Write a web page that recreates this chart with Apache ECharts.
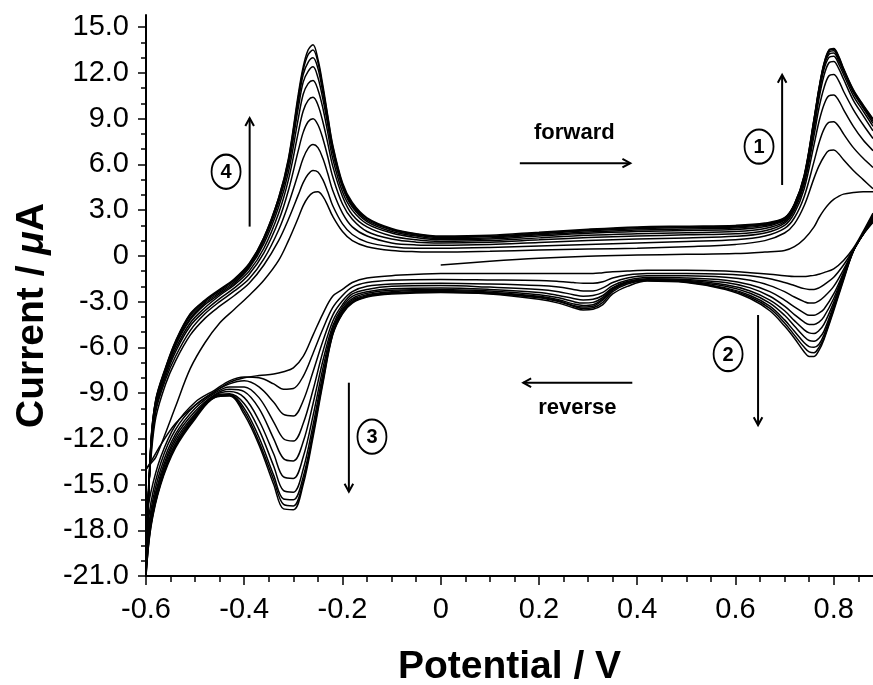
<!DOCTYPE html>
<html>
<head>
<meta charset="utf-8">
<script src="https://cdn.jsdelivr.net/npm/echarts@6/dist/echarts.min.js"></script>
<style>
  html, body { margin: 0; padding: 0; background: #ffffff; }
  #chart { width: 873px; height: 685px; }
</style>
</head>
<body>
<div id="chart"></div>
<script>
// ---- Potential grids (V) ----
const forwardPotential = [-0.6, -0.59, -0.58, -0.56, -0.54, -0.51, -0.48, -0.45, -0.42, -0.39,
  -0.36, -0.33, -0.31, -0.29, -0.28, -0.27, -0.26, -0.25, -0.24, -0.23,
  -0.22, -0.2, -0.18, -0.15, -0.1, -0.05, 0, 0.1, 0.2, 0.3,
  0.4, 0.5, 0.6, 0.66, 0.7, 0.72, 0.74, 0.76, 0.77, 0.78,
  0.79, 0.8, 0.81, 0.82, 0.84, 0.86, 0.88];
const reversePotential = [0.88, 0.86, 0.84, 0.82, 0.8, 0.78, 0.77, 0.76, 0.75, 0.74,
  0.72, 0.7, 0.67, 0.63, 0.58, 0.5, 0.42, 0.38, 0.35, 0.33,
  0.31, 0.29, 0.27, 0.24, 0.2, 0.1, 0, -0.1, -0.15, -0.18,
  -0.2, -0.22, -0.24, -0.26, -0.28, -0.3, -0.32, -0.34, -0.37, -0.4,
  -0.43, -0.46, -0.5, -0.54, -0.57, -0.59, -0.6];
// first sweep starts at 0 V (uses the forward grid from 0 V on)
const initialPotential = forwardPotential.slice(26);

// ---- Currents (µA) ----
const forward0 = [-0.6, -0.35, -0.15, -0.02, 0.05, 0.1, 0.15, 0.25, 0.35, 0.6, 1.1, 1.9, 2.5, 3.0, 3.4, 3.7, 3.9, 4.05, 4.15, 4.2, 4.2];

const reverse1 = [2.8, 1.6, 0.5, -0.3, -0.85, -1.1, -1.2, -1.28, -1.32, -1.35, -1.35, -1.3, -1.2, -1.1, -1.0, -0.95, -0.95, -1.0, -1.05, -1.1, -1.15, -1.15, -1.15, -1.15, -1.15, -1.15, -1.15, -1.3, -1.45, -1.75, -2.2, -2.65, -3.8, -5.2, -6.6, -7.35, -7.6, -7.75, -7.85, -8.0, -8.3, -8.9, -9.8, -11.0, -12.4, -13.5, -14];
const forward1 = [-14, -13.6, -13.2, -11.6, -9.9, -7.4, -5.7, -4.4, -3.5, -2.6, -1.6, -0.3, 1.0, 2.5, 3.3, 3.85, 4.15, 4.2, 3.9, 3.3, 2.6, 1.6, 1.0, 0.6, 0.35, 0.27, 0.25, 0.3, 0.38, 0.45, 0.5, 0.6, 0.75, 1.0, 1.5, 2.1, 3.3, 5.1, 5.9, 6.5, 6.9, 6.95, 6.7, 6.3, 5.6, 5.0, 4.4];
const reverse2 = [2.7, 1.5, 0.4, -0.6, -1.4, -1.9, -2.1, -2.2, -2.2, -2.15, -1.95, -1.75, -1.5, -1.3, -1.2, -1.15, -1.15, -1.25, -1.45, -1.7, -1.8, -1.8, -1.75, -1.68, -1.62, -1.58, -1.55, -1.6, -1.75, -2.05, -2.6, -3.4, -4.8, -6.4, -7.9, -8.7, -8.75, -8.4, -8.0, -7.95, -8.2, -8.8, -9.6, -11.1, -13.2, -15.5, -17.5];
const forward2 = [-17.5, -13.3, -10.6, -8.4, -6.9, -5.2, -4.1, -3.3, -2.6, -1.8, -0.6, 1.0, 2.4, 4.0, 4.8, 5.35, 5.6, 5.5, 5.0, 4.2, 3.3, 2.1, 1.4, 0.9, 0.6, 0.5, 0.5, 0.55, 0.65, 0.75, 0.85, 0.95, 1.05, 1.3, 1.8, 2.5, 3.9, 6.2, 7.4, 8.3, 8.75, 8.8, 8.5, 8.0, 7.1, 6.4, 5.8];
const reverse3 = [2.6, 1.45, 0.35, -0.9, -2.0, -2.7, -2.95, -3.1, -3.1, -3.0, -2.7, -2.35, -1.95, -1.6, -1.4, -1.3, -1.3, -1.45, -1.75, -2.1, -2.3, -2.3, -2.2, -2.05, -1.95, -1.85, -1.8, -1.85, -2.0, -2.35, -2.95, -3.9, -5.6, -7.6, -9.5, -10.5, -10.4, -9.6, -8.6, -8.2, -8.4, -8.9, -9.8, -11.4, -13.6, -16.2, -19];
const forward3 = [-19, -13.0, -10.2, -8.1, -6.6, -4.9, -3.8, -3.0, -2.3, -1.5, -0.2, 1.7, 3.4, 5.4, 6.4, 7.05, 7.3, 7.1, 6.4, 5.4, 4.3, 2.8, 1.9, 1.3, 0.85, 0.72, 0.7, 0.75, 0.88, 1.0, 1.1, 1.18, 1.28, 1.5, 2.0, 2.8, 4.4, 7.3, 8.8, 9.9, 10.5, 10.55, 10.2, 9.6, 8.5, 7.6, 6.9];
const reverse4 = [2.5, 1.45, 0.35, -1.1, -2.5, -3.5, -3.75, -3.9, -3.9, -3.75, -3.35, -2.9, -2.35, -1.9, -1.6, -1.45, -1.42, -1.6, -1.95, -2.4, -2.6, -2.65, -2.55, -2.35, -2.2, -2.05, -1.95, -2.0, -2.2, -2.5, -3.2, -4.3, -6.3, -8.8, -11.0, -12.15, -12.0, -10.9, -9.3, -8.6, -8.6, -9.0, -10.0, -11.7, -14.0, -16.7, -19.8];
const forward4 = [-19.8, -12.8, -10.0, -7.9, -6.3, -4.6, -3.6, -2.8, -2.1, -1.2, 0.2, 2.3, 4.3, 6.9, 8.1, 8.8, 9.0, 8.6, 7.7, 6.5, 5.2, 3.4, 2.4, 1.6, 1.1, 0.9, 0.85, 0.9, 1.05, 1.2, 1.3, 1.38, 1.45, 1.65, 2.15, 3.0, 4.7, 7.9, 9.7, 11.0, 11.8, 11.9, 11.5, 10.8, 9.6, 8.6, 7.7];
const reverse5 = [2.45, 1.45, 0.35, -1.2, -2.8, -4.0, -4.35, -4.5, -4.5, -4.35, -3.85, -3.3, -2.65, -2.1, -1.75, -1.55, -1.5, -1.68, -2.08, -2.6, -2.85, -2.9, -2.8, -2.6, -2.4, -2.2, -2.1, -2.15, -2.35, -2.65, -3.35, -4.6, -6.9, -9.7, -12.2, -13.45, -13.3, -12.0, -10.0, -8.9, -8.75, -9.1, -10.2, -11.9, -14.3, -17.0, -20.3];
const forward5 = [-20.3, -12.6, -9.8, -7.7, -6.1, -4.4, -3.4, -2.6, -1.9, -1.0, 0.5, 2.8, 5.0, 8.1, 9.5, 10.2, 10.4, 9.9, 8.8, 7.4, 5.9, 3.9, 2.7, 1.9, 1.3, 1.05, 0.95, 1.0, 1.18, 1.35, 1.45, 1.52, 1.6, 1.8, 2.25, 3.15, 4.9, 8.3, 10.3, 11.8, 12.65, 12.75, 12.3, 11.6, 10.2, 9.2, 8.2];
const reverse6 = [2.4, 1.45, 0.35, -1.3, -3.05, -4.5, -4.9, -5.1, -5.05, -4.85, -4.25, -3.6, -2.9, -2.3, -1.9, -1.62, -1.55, -1.72, -2.15, -2.72, -3.05, -3.1, -3.0, -2.75, -2.55, -2.3, -2.2, -2.25, -2.45, -2.8, -3.5, -4.8, -7.4, -10.5, -13.2, -14.6, -14.5, -13.0, -10.8, -9.3, -8.9, -9.15, -10.35, -12.1, -14.5, -17.2, -20.6];
const forward6 = [-20.6, -12.5, -9.7, -7.6, -5.9, -4.2, -3.2, -2.5, -1.8, -0.8, 0.8, 3.2, 5.5, 9.0, 10.6, 11.3, 11.5, 10.9, 9.7, 8.1, 6.4, 4.2, 3.0, 2.1, 1.5, 1.2, 1.05, 1.1, 1.3, 1.48, 1.6, 1.67, 1.73, 1.92, 2.35, 3.25, 5.05, 8.6, 10.6, 12.2, 13.0, 13.1, 12.6, 11.9, 10.5, 9.5, 8.5];
const reverse7 = [2.35, 1.45, 0.35, -1.4, -3.25, -4.95, -5.4, -5.6, -5.55, -5.3, -4.6, -3.9, -3.1, -2.45, -2.0, -1.67, -1.58, -1.75, -2.2, -2.82, -3.2, -3.25, -3.15, -2.88, -2.65, -2.38, -2.28, -2.35, -2.55, -2.9, -3.6, -5.0, -7.8, -11.1, -14.0, -15.5, -15.4, -13.8, -11.4, -9.7, -9.05, -9.2, -10.45, -12.3, -14.7, -17.4, -20.8];
const forward7 = [-20.8, -12.4, -9.6, -7.5, -5.8, -4.1, -3.1, -2.4, -1.7, -0.7, 1.0, 3.5, 5.9, 9.7, 11.4, 12.1, 12.4, 11.7, 10.3, 8.6, 6.8, 4.5, 3.2, 2.25, 1.6, 1.3, 1.12, 1.18, 1.38, 1.57, 1.7, 1.77, 1.83, 2.0, 2.4, 3.3, 5.15, 8.8, 10.8, 12.4, 13.2, 13.3, 12.8, 12.1, 10.7, 9.7, 8.7];
const reverse8 = [2.3, 1.42, 0.32, -1.45, -3.4, -5.2, -5.8, -6.0, -5.95, -5.7, -4.95, -4.2, -3.3, -2.6, -2.1, -1.7, -1.6, -1.77, -2.25, -2.9, -3.3, -3.35, -3.25, -2.95, -2.7, -2.43, -2.33, -2.42, -2.62, -3.0, -3.7, -5.1, -8.1, -11.5, -14.5, -16.0, -15.95, -14.4, -11.9, -10.0, -9.1, -9.25, -10.55, -12.45, -14.85, -17.6, -20.9];
const forward8 = [-20.9, -12.4, -9.5, -7.4, -5.7, -3.95, -3.0, -2.3, -1.6, -0.6, 1.1, 3.7, 6.1, 10.1, 11.9, 12.7, 13.0, 12.3, 10.7, 8.9, 7.0, 4.6, 3.3, 2.35, 1.7, 1.37, 1.2, 1.25, 1.45, 1.65, 1.78, 1.85, 1.9, 2.05, 2.45, 3.35, 5.2, 8.9, 10.9, 12.5, 13.35, 13.45, 12.95, 12.2, 10.8, 9.8, 8.85];
const reverse9 = [2.25, 1.41, 0.31, -1.52, -3.5, -5.4, -6.0, -6.35, -6.3, -6.0, -5.2, -4.4, -3.45, -2.7, -2.15, -1.72, -1.62, -1.85, -2.35, -3.05, -3.4, -3.45, -3.3, -3.0, -2.75, -2.47, -2.37, -2.46, -2.66, -3.05, -3.75, -5.15, -8.25, -11.7, -14.8, -16.4, -16.3, -14.7, -12.2, -10.2, -9.15, -9.28, -10.6, -12.5, -14.9, -17.7, -21];
const forward9 = [-21, -12.3, -9.45, -7.35, -5.65, -3.85, -2.95, -2.25, -1.55, -0.55, 1.2, 3.8, 6.3, 10.4, 12.2, 13.2, 13.5, 12.7, 11.0, 9.1, 7.2, 4.7, 3.4, 2.45, 1.75, 1.42, 1.25, 1.3, 1.5, 1.7, 1.85, 1.9, 1.95, 2.1, 2.48, 3.38, 5.25, 8.95, 10.95, 12.55, 13.45, 13.55, 13.05, 12.25, 10.85, 9.85, 8.95];
const reverse10 = [2.2, 1.4, 0.3, -1.6, -3.6, -5.5, -6.2, -6.6, -6.6, -6.3, -5.4, -4.6, -3.6, -2.8, -2.2, -1.75, -1.65, -2.0, -2.5, -3.2, -3.5, -3.55, -3.4, -3.1, -2.85, -2.5, -2.4, -2.5, -2.7, -3.1, -3.8, -5.2, -8.4, -11.9, -15.0, -16.65, -16.6, -15.0, -12.4, -10.4, -9.2, -9.3, -10.7, -12.6, -15.0, -17.8, -21];
const forward10 = [-21, -12.3, -9.4, -7.3, -5.6, -3.8, -2.9, -2.2, -1.5, -0.5, 1.2, 3.8, 6.4, 10.6, 12.4, 13.5, 13.85, 12.9, 11.2, 9.2, 7.3, 4.8, 3.5, 2.5, 1.8, 1.45, 1.3, 1.35, 1.55, 1.75, 1.9, 1.95, 2.0, 2.15, 2.5, 3.4, 5.3, 9.0, 11.0, 12.6, 13.5, 13.6, 13.1, 12.3, 10.9, 9.9, 9.0];

// ---- Axis ticks ----
const xTicks = [-0.6, -0.4, -0.2, 0, 0.2, 0.4, 0.6, 0.8];
const xMinorTicks = [-0.55, -0.5, -0.45, -0.35, -0.3, -0.25, -0.15, -0.1, -0.05, 0.05, 0.1, 0.15,
  0.25, 0.3, 0.35, 0.45, 0.5, 0.55, 0.65, 0.7, 0.75, 0.85];
const yTicks = [-21, -18, -15, -12, -9, -6, -3, 0, 3, 6, 9, 12, 15];
const yMinorTicks = [-20, -19, -17, -16, -14, -13, -11, -10, -8, -7, -5, -4, -2, -1,
  1, 2, 4, 5, 7, 8, 10, 11, 13, 14];

// ---- Annotations (data coordinates) ----
const sweepLabels = [
  { text: 'forward', at: [0.272, 8.04] },
  { text: 'reverse', at: [0.278, -10.0] }
];
const sweepArrows = [
  { from: [0.161, 6.08], to: [0.386, 6.08] },
  { from: [0.39, -8.32], to: [0.168, -8.32] },
  { from: [0.695, 4.65], to: [0.695, 11.87] },
  { from: [0.646, -3.88], to: [0.646, -11.1] },
  { from: [-0.187, -8.32], to: [-0.187, -15.47] },
  { from: [-0.389, 1.92], to: [-0.389, 9.03] }
];
const peakMarkers = [
  { label: '1', at: [0.648, 7.17] },
  { label: '2', at: [0.585, -6.44] },
  { label: '3', at: [-0.14, -11.86] },
  { label: '4', at: [-0.437, 5.52] }
];

const toPairs = (potential, current) => current.map((c, i) => [potential[i], c]);

const sweeps = [toPairs(initialPotential, forward0)];
const reverseSweeps = [reverse1, reverse2, reverse3, reverse4, reverse5, reverse6, reverse7, reverse8, reverse9, reverse10];
const forwardSweeps = [forward1, forward2, forward3, forward4, forward5, forward6, forward7, forward8, forward9, forward10];
for (let k = 0; k < reverseSweeps.length; k++) {
  sweeps.push(toPairs(reversePotential, reverseSweeps[k]));
  sweeps.push(toPairs(forwardPotential, forwardSweeps[k]));
}

const numFont = '"Liberation Sans Narrow", "Arial Narrow", "Liberation Sans", Arial, sans-serif';
const titleFont = '"Liberation Sans", Arial, sans-serif';
const fmt = v => (Math.abs(v) < 1e-9 ? '0' : v.toFixed(1));

const chart = echarts.init(document.getElementById('chart'), null, { renderer: 'canvas' });

chart.setOption({
  backgroundColor: '#ffffff',
  animation: false,
  grid: { left: 146, right: 0, top: 15, bottom: 109, containLabel: false, outerBoundsMode: 'none' },
  xAxis: [
    {
      type: 'value', min: -0.6, max: 0.88, position: 'bottom',
      name: 'Potential / V', nameLocation: 'middle', nameGap: 72,
      nameTextStyle: { fontFamily: titleFont, fontWeight: 'bold', fontSize: 39, color: '#000' },
      axisLine: { onZero: false, lineStyle: { color: '#000', width: 2 } },
      axisTick: { show: true, customValues: xTicks, length: 9, lineStyle: { color: '#000', width: 1.5 } },
      axisLabel: { customValues: xTicks, formatter: fmt, margin: 19, fontFamily: numFont, fontSize: 29, color: '#000' },
      splitLine: { show: false }
    },
    {
      type: 'value', min: -0.6, max: 0.88, position: 'bottom',
      axisLine: { show: false, onZero: false },
      axisTick: { show: true, customValues: xMinorTicks, length: 6, lineStyle: { color: '#000', width: 1.5 } },
      axisLabel: { show: false },
      splitLine: { show: false }
    }
  ],
  yAxis: [
    {
      type: 'value', min: -21, max: 15.8, position: 'left',
      name: 'Current / {mu|μ}A', nameLocation: 'middle', nameGap: 92,
      nameTextStyle: {
        fontFamily: titleFont, fontWeight: 'bold', fontSize: 39, color: '#000',
        padding: [0, 40, 0, 0],
        rich: { mu: { fontFamily: titleFont, fontWeight: 'bold', fontStyle: 'italic', fontSize: 39, color: '#000' } }
      },
      axisLine: { onZero: false, lineStyle: { color: '#000', width: 2 } },
      axisTick: { show: true, customValues: yTicks, length: 8, lineStyle: { color: '#000', width: 1.5 } },
      axisLabel: { customValues: yTicks, formatter: fmt, margin: 17, fontFamily: numFont, fontSize: 29, color: '#000' },
      splitLine: { show: false }
    },
    {
      type: 'value', min: -21, max: 15.8, position: 'left',
      axisLine: { show: false, onZero: false },
      axisTick: { show: true, customValues: yMinorTicks, length: 5, lineStyle: { color: '#000', width: 1.5 } },
      axisLabel: { show: false },
      splitLine: { show: false }
    }
  ],
  series: sweeps.map(data => ({
    type: 'line', data, xAxisIndex: 0, yAxisIndex: 0,
    showSymbol: false, smooth: 0.35, silent: true,
    lineStyle: { color: '#000', width: 1.5 }
  }))
});

// Annotation overlay, placed through the axis scales
const px = p => chart.convertToPixel({ xAxisIndex: 0, yAxisIndex: 0 }, p);
const graphics = [];
const labelFont = 'bold 22px "Liberation Sans", Arial, sans-serif';

sweepLabels.forEach(l => {
  const [x, y] = px(l.at);
  graphics.push({ type: 'text', x, y, style: { text: l.text, font: labelFont, fill: '#000', align: 'center', verticalAlign: 'middle' } });
});

sweepArrows.forEach(a => {
  const [x1, y1] = px(a.from);
  const [x2, y2] = px(a.to);
  const ang = Math.atan2(y2 - y1, x2 - x1);
  const len = 9, spread = 0.5;
  graphics.push({ type: 'line', shape: { x1, y1, x2, y2 }, style: { stroke: '#000', lineWidth: 2 } });
  graphics.push({
    type: 'polyline',
    shape: { points: [
      [x2 - len * Math.cos(ang - spread), y2 - len * Math.sin(ang - spread)],
      [x2, y2],
      [x2 - len * Math.cos(ang + spread), y2 - len * Math.sin(ang + spread)]
    ] },
    style: { stroke: '#000', lineWidth: 2, fill: null }
  });
});

peakMarkers.forEach(m => {
  const [x, y] = px(m.at);
  graphics.push({
    type: 'circle', x, y, scaleY: 1.18, shape: { cx: 0, cy: 0, r: 14.5 },
    style: { fill: '#fff', stroke: '#000', lineWidth: 1.8 }
  });
  graphics.push({ type: 'text', x, y: y + 1, style: { text: m.label, font: 'bold 20px "Liberation Sans", Arial, sans-serif', fill: '#000', align: 'center', verticalAlign: 'middle' } });
});

chart.setOption({ graphic: graphics });
</script>
</body>
</html>
